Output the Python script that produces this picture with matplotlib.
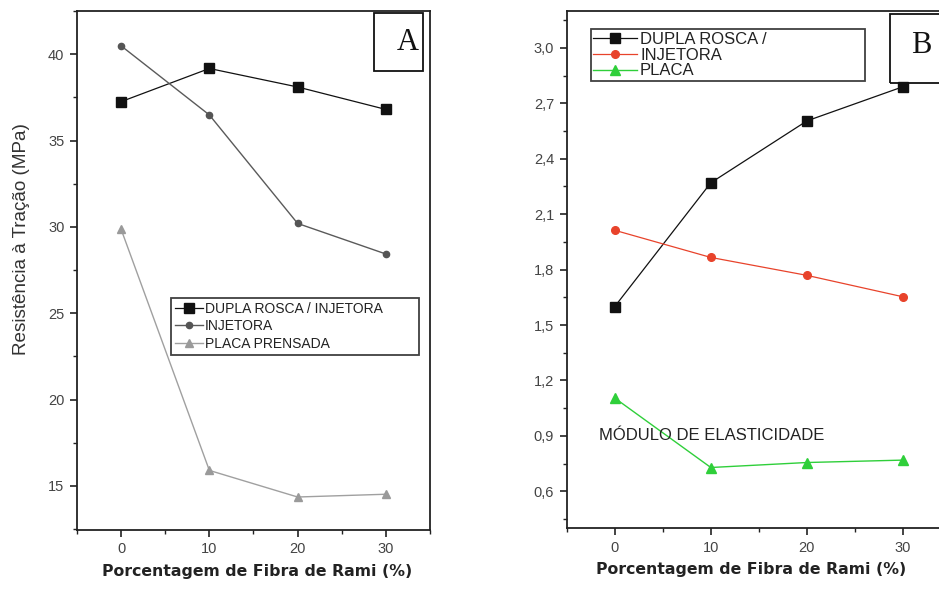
import matplotlib
matplotlib.use("Agg")
import matplotlib.pyplot as plt
from matplotlib.patches import Rectangle
from matplotlib.ticker import MultipleLocator, FuncFormatter

fibra = [0, 10, 20, 30]

# (A) resistencia a tracao, MPa
rt_dupla = [37.25, 39.17, 38.1, 36.8]
rt_injetora = [40.48, 36.48, 30.2, 28.43]
rt_placa = [29.86, 15.9, 14.36, 14.52]
labels_a = ["DUPLA ROSCA / INJETORA", "INJETORA", "PLACA PRENSADA"]

# (B) modulo de elasticidade, GPa
me_dupla = [1.60, 2.27, 2.605, 2.79]
me_injetora = [2.013, 1.866, 1.769, 1.653]
me_placa = [1.105, 0.729, 0.756, 0.769]
labels_b = ["DUPLA ROSCA /", "INJETORA", "PLACA"]

plt.rcParams["font.family"] = ["Liberation Sans", "DejaVu Sans"]

fig = plt.figure(figsize=(9.39, 5.90), dpi=100)
axA = fig.add_axes([0.0820, 0.1017, 0.3759, 0.8797])
axB = fig.add_axes([0.6035, 0.1046, 0.4093, 0.8768])


def style_axes(ax):
    for s in ax.spines.values():
        s.set_linewidth(1.3)
        s.set_color("#222222")
    ax.tick_params(which="both", direction="out", top=False, right=False,
                   colors="#222222", labelcolor="#444444", labelsize=10.5)
    ax.tick_params(which="major", length=5, width=1.2, pad=4)
    ax.tick_params(which="minor", length=3, width=1.0)
    ax.set_xlim(-5, 35)
    ax.xaxis.set_major_locator(MultipleLocator(10))
    ax.xaxis.set_minor_locator(MultipleLocator(5))
    ax.set_xlabel("Porcentagem de Fibra de Rami (%)", family="DejaVu Sans",
                  fontweight="bold", fontsize=11.3, color="#222222")


# --- painel A ---
style_axes(axA)
axA.plot(fibra, rt_dupla, "-s", color="#111111", lw=0.9, ms=6.5, label=labels_a[0])
axA.plot(fibra, rt_injetora, "-o", color="#5a5a5a", mfc="#555555", mec="#555555",
         lw=1.0, ms=4.5, label=labels_a[1])
axA.plot(fibra, rt_placa, "-^", color="#a0a0a0", mfc="#9a9a9a", mec="#9a9a9a",
         lw=1.0, ms=6, label=labels_a[2])
axA.set_ylim(12.45, 42.5)
axA.yaxis.set_major_locator(MultipleLocator(5))
axA.yaxis.set_minor_locator(MultipleLocator(2.5))
axA.set_ylabel("Resistência à Tração (MPa)", fontsize=13.6, color="#333333")
axA.yaxis.set_label_coords(-0.133, 0.56)
axA.xaxis.set_label_coords(0.51, -0.0655)

legA = axA.legend(loc="upper left", bbox_to_anchor=(0.266, 0.329, 0.703, 0.1186),
                  mode="expand", frameon=True, fancybox=False, edgecolor="#111111",
                  handlelength=2.0, handletextpad=0.15, labelspacing=0.25,
                  borderpad=0.3, borderaxespad=0, prop={"size": 10})
legA.get_frame().set_linewidth(1.3)
for t in legA.get_texts():
    t.set_color("#222222")

axA.add_patch(Rectangle((0.841, 0.884), 0.139, 0.112, transform=axA.transAxes,
                        fill=False, lw=1.3, ec="#111111", zorder=5))
axA.text(0.937, 0.940, "A", transform=axA.transAxes, ha="center", va="center",
         family="Liberation Serif", fontsize=22, color="#111111")

# --- painel B ---
style_axes(axB)
axB.plot(fibra, me_dupla, "-s", color="#111111", lw=0.9, ms=7, label=labels_b[0])
axB.plot(fibra, me_injetora, "-o", color="#e8432b", lw=0.9, ms=5.5, label=labels_b[1])
axB.plot(fibra, me_placa, "-^", color="#2fcf3a", lw=1.0, ms=7, label=labels_b[2])
axB.set_ylim(0.40, 3.2)
axB.yaxis.set_major_locator(MultipleLocator(0.3))
axB.yaxis.set_minor_locator(MultipleLocator(0.15))
axB.yaxis.set_major_formatter(FuncFormatter(lambda v, p: f"{v:.1f}".replace(".", ",")))
axB.xaxis.set_label_coords(0.481, -0.065)

legB = axB.legend(loc="upper left", bbox_to_anchor=(0.063, 0.843, 0.713, 0.1216),
                  mode="expand", frameon=True, fancybox=False, edgecolor="#111111",
                  handlelength=2.6, handletextpad=0.2, labelspacing=0.05,
                  borderpad=0.15, borderaxespad=0, prop={"size": 12})
legB.get_frame().set_linewidth(1.3)
for t in legB.get_texts():
    t.set_color("#222222")

axB.add_patch(Rectangle((0.841, 0.8615), 0.2, 0.132, transform=axB.transAxes,
                        fill=False, lw=1.3, ec="#111111", zorder=5, clip_on=False))
axB.text(0.922, 0.934, "B", transform=axB.transAxes, ha="center", va="center",
         family="Liberation Serif", fontsize=22, color="#111111")

axB.text(0.083, 0.9, "MÓDULO DE ELASTICIDADE", transform=axB.get_yaxis_transform(),
         ha="left", va="center", fontsize=12, color="#222222")

fig.savefig("out.png", dpi=100)
